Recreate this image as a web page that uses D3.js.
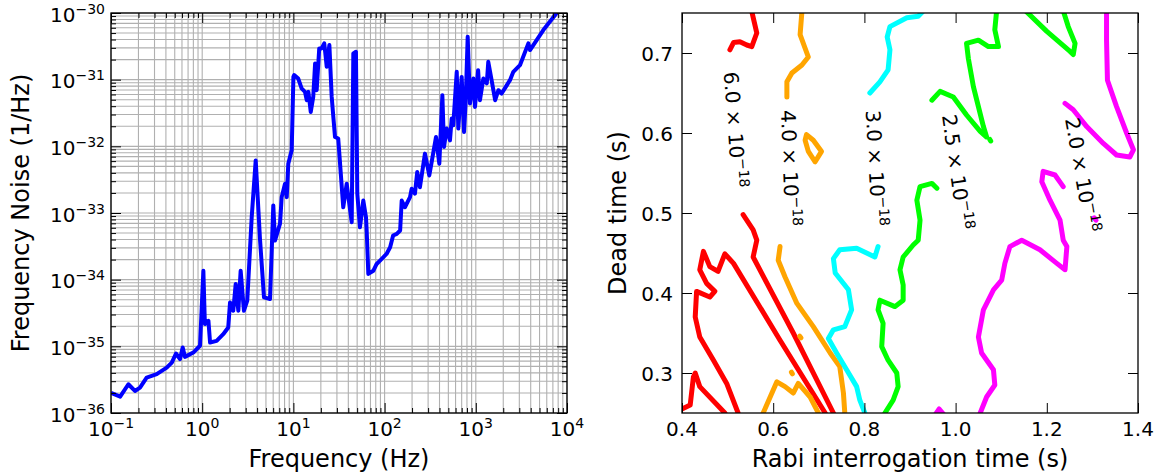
<!DOCTYPE html>
<html>
<head>
<meta charset="utf-8">
<script src="https://cdn.jsdelivr.net/npm/d3@7"></script>
<style>
  body { margin: 0; background: #fff; }
  svg { font-family: "DejaVu Sans", sans-serif; }
</style>
</head>
<body>
<script>
// ---- left panel: frequency noise spectrum ----
const freqHz = [0.1, 0.126, 0.155, 0.183, 0.208, 0.246, 0.317, 0.408, 0.464, 0.516,
  0.571, 0.611, 0.647, 0.798, 0.946, 1.03, 1.07, 1.17, 1.22, 1.44,
  1.70, 1.93, 2.02, 2.19, 2.33, 2.49, 2.64, 2.87, 3.12, 3.49,
  3.86, 4.30, 4.76, 5.54, 6.02, 6.28, 7.13, 7.44, 8.09, 8.45,
  8.79, 9.58, 10.0, 10.2, 11.3, 12.3, 13.4, 14.0, 14.6, 15.5,
  16.5, 17.3, 18.0, 19.2, 20.4, 21.8, 23.2, 24.8, 26.3, 27.4,
  28.6, 31.0, 35.2, 38.4, 43.6, 45.4, 48.5, 50.2, 53.7, 58.4,
  62.5, 63.6, 66.3, 75.2, 81.8, 89.1, 105, 115, 124, 136,
  148, 154, 167, 190, 198, 215, 228, 244, 277, 309,
  328, 366, 398, 430, 448, 480, 521, 544, 566, 618,
  643, 700, 743, 774, 815, 863, 940, 980, 1060, 1110,
  1210, 1320, 1370, 1490, 1630, 1770, 1920, 2370, 2580, 3050,
  3770, 3930, 5500, 7710, 10000];
const noise = [2.0e-36, 1.76e-36, 2.7e-36, 2.14e-36, 2.4e-36, 3.4e-36, 3.82e-36, 4.8e-36, 5.71e-36, 7.8e-36,
  6.43e-36, 9.6e-36, 6.95e-36, 8.07e-36, 1.02e-35, 1.36e-34, 2.16e-35, 2.42e-35, 1.14e-35, 1.21e-35,
  1.52e-35, 1.92e-35, 4.56e-35, 3.42e-35, 8.61e-35, 3.42e-35, 1.36e-34, 3.42e-35, 4.83e-35, 8.65e-34,
  6.15e-33, 4.09e-34, 5.42e-35, 5.13e-35, 1.30e-33, 3.86e-34, 6.89e-34, 1.73e-33, 2.75e-33, 1.73e-33,
  5.5e-33, 8.71e-33, 1.10e-31, 1.17e-31, 1.04e-31, 7.38e-32, 6.56e-32, 4.92e-32, 6.56e-32, 3.28e-32,
  5.51e-32, 1.75e-31, 6.95e-32, 2.94e-31, 2.94e-31, 3.5e-31, 1.56e-31, 3.3e-31, 5.51e-32, 2.76e-32,
  1.38e-32, 1.31e-32, 1.22e-33, 2.75e-33, 7.28e-34, 2.48e-31, 2.62e-31, 1.95e-33, 6.11e-34, 1.54e-33,
  8.65e-34, 5.46e-34, 1.22e-34, 1.36e-34, 1.72e-34, 1.93e-34, 2.43e-34, 3.06e-34, 4.59e-34, 4.86e-34,
  5.46e-34, 1.54e-33, 1.22e-33, 1.73e-33, 2.31e-33, 1.95e-33, 4.11e-33, 2.44e-33, 7.77e-33, 3.66e-33,
  5.81e-33, 1.38e-32, 5.5e-33, 5.85e-32, 9.76e-33, 1.85e-32, 1.23e-32, 2.61e-32, 2.07e-32, 1.31e-31,
  1.85e-32, 1.10e-31, 1.64e-32, 4.64e-32, 4.4e-31, 4.39e-32, 1.04e-31, 3.9e-32, 1.39e-31, 4.92e-32,
  1.04e-31, 8.77e-32, 1.85e-31, 9.83e-32, 4.92e-32, 6.95e-32, 6.2e-32, 9.83e-32, 1.31e-31, 1.65e-31,
  3.5e-31, 2.78e-31, 5.55e-31, 1.0e-30, 1.7e-30];

const freqTicks = [0.1, 1, 10, 100, 1000, 10000];
const freqTickExp = ['\u22121', '0', '1', '2', '3', '4'];
const noiseTicks = [1e-36, 1e-35, 1e-34, 1e-33, 1e-32, 1e-31, 1e-30];
const noiseTickExp = ['\u221236', '\u221235', '\u221234', '\u221233', '\u221232', '\u221231', '\u221230'];

// ---- right panel: contour lines, points are [rabi time (s), dead time (s)] ----
const level6 = [
  [[0.553, 0.752], [0.564, 0.725], [0.553, 0.708], [0.542, 0.71], [0.527, 0.714], [0.513, 0.713], [0.505, 0.704]],
  [[0.534, 0.498], [0.556, 0.479], [0.564, 0.466], [0.556, 0.445], [0.644, 0.35], [0.732, 0.25], [0.735, 0.246]],
  [[0.526, 0.246], [0.523, 0.25], [0.498, 0.287], [0.469, 0.316], [0.439, 0.345], [0.429, 0.37], [0.432, 0.402],
   [0.461, 0.395], [0.472, 0.402], [0.454, 0.412], [0.439, 0.429], [0.447, 0.452], [0.461, 0.433], [0.479, 0.427],
   [0.494, 0.449], [0.513, 0.437], [0.615, 0.341], [0.714, 0.25], [0.717, 0.246]],
  [[0.396, 0.254], [0.418, 0.26], [0.425, 0.295], [0.429, 0.3], [0.439, 0.283], [0.494, 0.25], [0.498, 0.246]]
];
const level4 = [
  [[0.663, 0.752], [0.659, 0.723], [0.677, 0.695], [0.663, 0.685], [0.641, 0.675], [0.63, 0.664], [0.63, 0.645]],
  [[0.673, 0.598], [0.688, 0.591], [0.706, 0.577], [0.692, 0.564], [0.677, 0.577], [0.67, 0.591], [0.673, 0.598]],
  [[0.615, 0.458], [0.611, 0.441], [0.626, 0.42], [0.652, 0.387], [0.688, 0.358], [0.725, 0.325], [0.746, 0.308],
   [0.754, 0.275], [0.757, 0.25], [0.758, 0.246]],
  [[0.576, 0.246], [0.578, 0.25], [0.608, 0.289], [0.626, 0.283], [0.644, 0.275], [0.655, 0.287], [0.681, 0.27],
   [0.699, 0.25], [0.702, 0.246]],
  [[0.658, 0.346], [0.661, 0.344]],
  [[0.64, 0.301], [0.642, 0.299]]
];
const level3 = [
  [[0.93, 0.753], [0.918, 0.746], [0.893, 0.744], [0.856, 0.733], [0.85, 0.72], [0.856, 0.704], [0.852, 0.679],
   [0.834, 0.664], [0.812, 0.65]],
  [[0.83, 0.458], [0.823, 0.445], [0.783, 0.456], [0.746, 0.454], [0.732, 0.443], [0.736, 0.425], [0.765, 0.404],
   [0.772, 0.379], [0.757, 0.358], [0.732, 0.354], [0.721, 0.343], [0.739, 0.325], [0.761, 0.304], [0.783, 0.283],
   [0.79, 0.266], [0.801, 0.25], [0.803, 0.246]]
];
const level25 = [
  [[1.153, 0.753], [1.2, 0.727], [1.251, 0.702], [1.258, 0.698], [1.262, 0.712], [1.247, 0.733], [1.236, 0.753]],
  [[1.09, 0.753], [1.086, 0.729], [1.094, 0.708], [1.072, 0.708], [1.05, 0.716], [1.024, 0.712], [1.028, 0.693],
   [1.039, 0.658], [1.05, 0.633], [1.061, 0.608], [1.068, 0.595], [1.054, 0.602], [1.024, 0.6225], [0.995, 0.645],
   [0.966, 0.652], [0.948, 0.641]],
  [[1.075, 0.592], [1.077, 0.59]],
  [[0.959, 0.531], [0.948, 0.537], [0.922, 0.533], [0.915, 0.516], [0.922, 0.491], [0.918, 0.466], [0.907, 0.46],
   [0.885, 0.445], [0.878, 0.429], [0.885, 0.41], [0.885, 0.391], [0.867, 0.383], [0.834, 0.391], [0.83, 0.379],
   [0.841, 0.362], [0.838, 0.333], [0.852, 0.316], [0.871, 0.3], [0.874, 0.283], [0.863, 0.266], [0.845, 0.25],
   [0.843, 0.246]]
];
const level2 = [
  [[1.331, 0.753], [1.331, 0.716], [1.333, 0.666], [1.353, 0.633], [1.375, 0.6], [1.39, 0.579], [1.382, 0.57],
   [1.353, 0.5725], [1.324, 0.587], [1.2875, 0.608], [1.258, 0.629], [1.24, 0.637]],
  [[1.236, 0.533], [1.218, 0.5475], [1.192, 0.552], [1.189, 0.539], [1.207, 0.516], [1.229, 0.491], [1.236, 0.466],
   [1.244, 0.458], [1.24, 0.429], [1.222, 0.437], [1.185, 0.454], [1.145, 0.466], [1.119, 0.458], [1.108, 0.437],
   [1.101, 0.416], [1.083, 0.404], [1.061, 0.379], [1.05, 0.345], [1.057, 0.325], [1.083, 0.304], [1.086, 0.285],
   [1.068, 0.27], [1.054, 0.25], [1.052, 0.246]],
  [[0.953, 0.246], [0.964, 0.255], [0.977, 0.246]],
  [[1.304, 0.494], [1.308, 0.491]]
];
const contourLevels = [level6, level4, level3, level25, level2];
const contourText = ['6.0', '4.0', '3.0', '2.5', '2.0'];
const contourColors = ['#ff0000', '#ffa500', '#00ffff', '#00ff00', '#ff00ff'];
const labelAt = [[0.516, 0.604], [0.637, 0.556], [0.825, 0.556], [1.003, 0.551], [1.277, 0.5475]];
const labelAngle = [86, 88, 87, 82, 80];

const rabiTicks = [0.4, 0.6, 0.8, 1.0, 1.2, 1.4];
const deadTicks = [0.3, 0.4, 0.5, 0.6, 0.7];

// ---- layout ----
const svg = d3.select('body').append('svg')
  .attr('width', 1158)
  .attr('height', 475);

const pL = { left: 111, top: 13, width: 456, height: 400 };
const pR = { left: 682, top: 13, width: 456, height: 400 };

// inward ticks on all four sides
function addTicks(g, xs, ys, w, h, xVals, yVals, size) {
  g.append('g').attr('transform', `translate(0,${h})`)
    .call(d3.axisBottom(xs).tickValues(xVals).tickSize(-size).tickFormat(''));
  g.append('g')
    .call(d3.axisTop(xs).tickValues(xVals).tickSize(-size).tickFormat(''));
  g.append('g')
    .call(d3.axisLeft(ys).tickValues(yVals).tickSize(-size).tickFormat(''));
  g.append('g').attr('transform', `translate(${w},0)`)
    .call(d3.axisRight(ys).tickValues(yVals).tickSize(-size).tickFormat(''));
  g.selectAll('.domain').remove();
}

// ================= left plot =================
const xF = d3.scaleLog().domain([0.1, 1e4]).range([0, pL.width]);
const yN = d3.scaleLog().domain([1e-36, 1e-30]).range([pL.height, 0]);

const minorFreq = [];
freqTicks.slice(0, -1).forEach(t => { for (let m = 2; m < 10; m++) minorFreq.push(t * m); });
const minorNoise = [];
noiseTicks.slice(0, -1).forEach(t => { for (let m = 2; m < 10; m++) minorNoise.push(t * m); });

const g1 = svg.append('g').attr('transform', `translate(${pL.left},${pL.top})`);

g1.append('clipPath').attr('id', 'clipL')
  .append('rect').attr('width', pL.width).attr('height', pL.height);

const grid = g1.append('g').attr('stroke', '#b0b0b0').attr('stroke-width', 1.1);
grid.selectAll('.gx').data(minorFreq.concat(freqTicks)).join('line')
  .attr('class', 'gx')
  .attr('x1', d => xF(d)).attr('x2', d => xF(d))
  .attr('y1', 0).attr('y2', pL.height);
grid.selectAll('.gy').data(minorNoise.concat(noiseTicks)).join('line')
  .attr('class', 'gy')
  .attr('y1', d => yN(d)).attr('y2', d => yN(d))
  .attr('x1', 0).attr('x2', pL.width);

const noiseLine = d3.line()
  .x((d, i) => xF(freqHz[i]))
  .y(d => yN(d));

g1.append('path')
  .attr('clip-path', 'url(#clipL)')
  .attr('d', noiseLine(noise))
  .attr('fill', 'none')
  .attr('stroke', '#0000ff')
  .attr('stroke-width', 4)
  .attr('stroke-linejoin', 'round');

addTicks(g1, xF, yN, pL.width, pL.height, minorFreq, minorNoise, 5);
addTicks(g1, xF, yN, pL.width, pL.height, freqTicks, noiseTicks, 10);

g1.append('rect')
  .attr('width', pL.width).attr('height', pL.height)
  .attr('fill', 'none').attr('stroke', '#000').attr('stroke-width', 1.3);

g1.selectAll('.xlab').data(freqTicks).join('text')
  .attr('class', 'xlab')
  .attr('x', d => xF(d)).attr('y', pL.height + 23)
  .attr('text-anchor', 'middle').attr('font-size', 20)
  .each(function(d, i) {
    const t = d3.select(this);
    t.append('tspan').text('10');
    t.append('tspan').attr('dy', -8).attr('font-size', 14).text(freqTickExp[i]);
  });

g1.selectAll('.ylab').data(noiseTicks).join('text')
  .attr('class', 'ylab')
  .attr('x', -6).attr('y', d => yN(d) + 8.5)
  .attr('text-anchor', 'end').attr('font-size', 20)
  .each(function(d, i) {
    const t = d3.select(this);
    t.append('tspan').text('10');
    t.append('tspan').attr('dy', -8).attr('font-size', 14).text(noiseTickExp[i]);
  });

g1.append('text')
  .attr('x', pL.width / 2).attr('y', 454)
  .attr('text-anchor', 'middle').attr('font-size', 24)
  .text('Frequency (Hz)');

g1.append('text')
  .attr('transform', `translate(${29 - pL.left},${pL.height / 2}) rotate(-90)`)
  .attr('text-anchor', 'middle').attr('font-size', 24)
  .text('Frequency Noise (1/Hz)');

// ================= right plot =================
const xR = d3.scaleLinear().domain([0.4, 1.4]).range([0, pR.width]);
const yR = d3.scaleLinear().domain([0.25, 0.75]).range([pR.height, 0]);

const g2 = svg.append('g').attr('transform', `translate(${pR.left},${pR.top})`);

g2.append('clipPath').attr('id', 'clipR')
  .append('rect').attr('width', pR.width).attr('height', pR.height);

const contourLine = d3.line()
  .x(d => xR(d[0]))
  .y(d => yR(d[1]));

const cg = g2.append('g').attr('clip-path', 'url(#clipR)');
contourLevels.forEach((pieces, k) => {
  cg.append('g').selectAll('path').data(pieces).join('path')
    .attr('d', contourLine)
    .attr('fill', 'none')
    .attr('stroke', contourColors[k])
    .attr('stroke-width', 5)
    .attr('stroke-linejoin', 'round')
    .attr('stroke-linecap', 'round');
});

g2.selectAll('.clab').data(labelAt).join('text')
  .attr('class', 'clab')
  .attr('transform', (d, i) => `translate(${xR(d[0])},${yR(d[1])}) rotate(${labelAngle[i]})`)
  .attr('y', 7)
  .attr('text-anchor', 'middle').attr('font-size', 20)
  .each(function(d, i) {
    const t = d3.select(this);
    t.append('tspan').text(contourText[i] + ' \u00d7 10');
    t.append('tspan').attr('dy', -8).attr('font-size', 14).text('\u221218');
  });

addTicks(g2, xR, yR, pR.width, pR.height, rabiTicks, deadTicks, 10);

g2.append('rect')
  .attr('width', pR.width).attr('height', pR.height)
  .attr('fill', 'none').attr('stroke', '#000').attr('stroke-width', 1.3);

g2.selectAll('.xlab').data(rabiTicks).join('text')
  .attr('class', 'xlab')
  .attr('x', d => xR(d)).attr('y', pR.height + 23)
  .attr('text-anchor', 'middle').attr('font-size', 20)
  .text(d => d.toFixed(1));

g2.selectAll('.ylab').data(deadTicks).join('text')
  .attr('class', 'ylab')
  .attr('x', -9).attr('y', d => yR(d) + 7.5)
  .attr('text-anchor', 'end').attr('font-size', 20)
  .text(d => d.toFixed(1));

g2.append('text')
  .attr('x', pR.width / 2).attr('y', 454)
  .attr('text-anchor', 'middle').attr('font-size', 24)
  .text('Rabi interrogation time (s)');

g2.append('text')
  .attr('transform', `translate(${626 - pR.left},${pR.height / 2}) rotate(-90)`)
  .attr('text-anchor', 'middle').attr('font-size', 24)
  .text('Dead time (s)');
</script>
</body>
</html>
